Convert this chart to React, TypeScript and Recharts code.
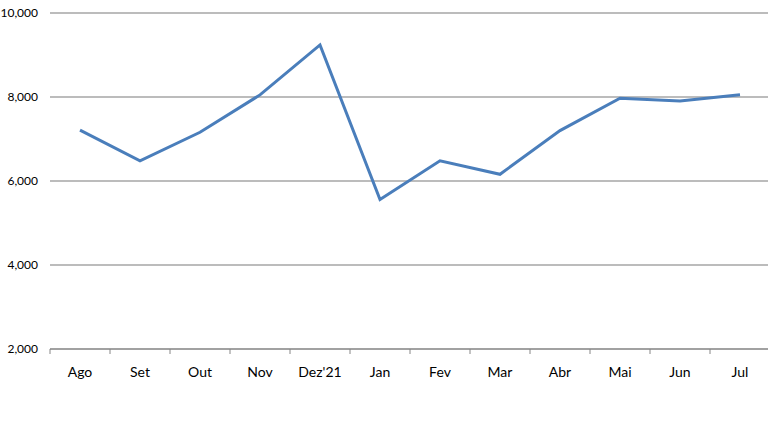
import { LineChart, Line, XAxis, YAxis, CartesianGrid } from "recharts";

const months = ["Ago", "Set", "Out", "Nov", "Dez'21", "Jan", "Fev", "Mar", "Abr", "Mai", "Jun", "Jul"];
const values = [7210, 6480, 7160, 8050, 9240, 5560, 6480, 6160, 7200, 7970, 7905, 8055];
const yTicks = [2000, 4000, 6000, 8000, 10000];

const data = months.map((m, i) => ({ month: m, value: values[i] }));

const FONT = "Lato, 'Open Sans', sans-serif";

// month label at band centre, tick mark at the band's left boundary (Excel style)
function MonthTick(props: any) {
  const { x, y, payload } = props;
  const half = payload?.offset || 30;
  return (
    <g>
      <line x1={x - half} y1={y - 2} x2={x - half} y2={y + 3} stroke="#868686" />
      <text x={x} y={y + 26} textAnchor="middle" fill="#000" fontSize={14} fontFamily={FONT}>
        {payload.value}
      </text>
    </g>
  );
}

export default function App() {
  return (
    <div style={{ position: "absolute", left: 0, top: 0, width: 768, height: 422, overflow: "hidden", background: "#fff" }}>
      <LineChart width={770} height={422} data={data} margin={{ top: 13, right: 0, bottom: 43, left: 0 }}>
        <CartesianGrid vertical={false} stroke="#a6a6a6" strokeWidth={1.3} />
        <XAxis
          dataKey="month"
          scale="band"
          height={30}
          axisLine={{ stroke: "#868686" }}
          tickLine={false}
          tickSize={0}
          tick={<MonthTick />}
          interval={0}
        />
        <YAxis
          domain={[2000, 10000]}
          ticks={yTicks}
          width={50}
          axisLine={false}
          tickLine={false}
          tickSize={0}
          tickMargin={12}
          tickFormatter={(v: number) => v.toLocaleString("en-US")}
          tick={{ fill: "#000", fontSize: 12, fontFamily: FONT }}
        />
        <Line
          type="linear"
          dataKey="value"
          stroke="#4a7ebb"
          strokeWidth={3}
          dot={false}
          isAnimationActive={false}
        />
      </LineChart>
    </div>
  );
}
